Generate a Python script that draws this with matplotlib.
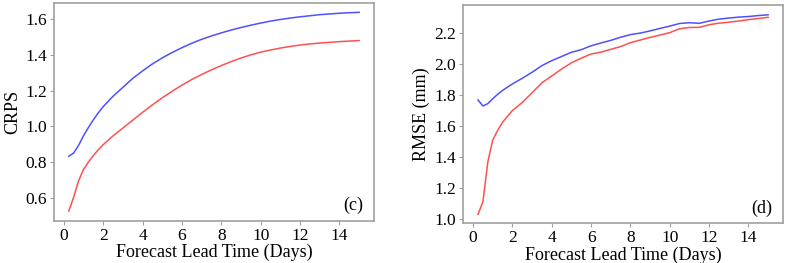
import numpy as np
import matplotlib
matplotlib.use('Agg')
import matplotlib.pyplot as plt

plt.rcParams['font.family'] = ['Liberation Serif', 'DejaVu Serif']

# Lead times (days) and scores
lead_crps = [0.25, 0.5, 0.75, 1, 1.25, 1.5, 1.75, 2, 2.5, 3, 3.5, 4, 4.5, 5, 5.5, 6, 6.5, 7,
             7.5, 8, 8.5, 9, 9.5, 10, 10.5, 11, 11.5, 12, 12.5, 13, 13.5, 14, 14.5, 15]
crps_blue = [0.832, 0.850, 0.893, 0.947, 0.993, 1.036, 1.075, 1.110, 1.168, 1.218, 1.268,
             1.310, 1.349, 1.383, 1.413, 1.440, 1.465, 1.487, 1.506, 1.523, 1.539, 1.553,
             1.566, 1.578, 1.589, 1.598, 1.606, 1.613, 1.619, 1.625, 1.629, 1.633, 1.636,
             1.638]
crps_red = [0.524, 0.603, 0.695, 0.758, 0.800, 0.836, 0.868, 0.897, 0.946, 0.990, 1.034,
            1.078, 1.120, 1.159, 1.196, 1.230, 1.262, 1.290, 1.316, 1.340, 1.362, 1.382,
            1.400, 1.415, 1.427, 1.438, 1.447, 1.455, 1.461, 1.466, 1.470, 1.474, 1.477,
            1.480]

lead_rmse = [0.25, 0.5, 0.75, 1, 1.25, 1.5, 2, 2.5, 3, 3.5, 4, 4.5, 5, 5.5, 6, 6.5, 7, 7.5,
             8, 8.5, 9, 9.5, 10, 10.5, 11, 11.5, 12, 12.5, 13, 13.5, 14, 14.5, 15]
rmse_blue = [1.768, 1.729, 1.745, 1.776, 1.805, 1.830, 1.872, 1.908, 1.947, 1.990, 2.022,
             2.049, 2.076, 2.093, 2.118, 2.136, 2.153, 2.173, 2.190, 2.200, 2.214, 2.230,
             2.245, 2.262, 2.267, 2.263, 2.278, 2.290, 2.297, 2.303, 2.307, 2.313, 2.318]
rmse_red = [1.030, 1.112, 1.370, 1.510, 1.572, 1.625, 1.700, 1.752, 1.815, 1.879, 1.923,
            1.968, 2.008, 2.038, 2.065, 2.077, 2.095, 2.113, 2.138, 2.155, 2.172, 2.187,
            2.203, 2.228, 2.236, 2.237, 2.254, 2.264, 2.270, 2.278, 2.287, 2.294, 2.302]

blue = '#5050ff'
red = '#ff5050'
edge = '#a0a0a0'

fig = plt.figure(figsize=(7.93, 2.63), dpi=100)
ax1 = fig.add_axes([0.0681, 0.1597, 0.4039, 0.830])
ax2 = fig.add_axes([0.5842, 0.151, 0.4035, 0.831])


def style(ax, tag):
    for s in ax.spines.values():
        s.set_color(edge)
        s.set_linewidth(1.2)
    ax.tick_params(colors=edge, labelcolor='black', length=3, width=0.8,
                   labelsize=12.5, pad=2)
    ax.set_xlabel('Forecast Lead Time (Days)', fontsize=13, labelpad=0)
    ax.set_xticks([0, 2, 4, 6, 8, 10, 12, 14])
    ax.set_xlim(-0.5, 15.77)
    ax.text(0.965, 0.03, tag, transform=ax.transAxes, ha='right', va='bottom',
            fontsize=13)


ax1.plot(lead_crps, crps_blue, color=blue, lw=1.1)
ax1.plot(lead_crps, crps_red, color=red, lw=1.1)
ax1.set_ylim(0.469, 1.692)
ax1.set_yticks([0.6, 0.8, 1.0, 1.2, 1.4, 1.6])
ax1.set_ylabel('CRPS', fontsize=13, labelpad=3)
style(ax1, '(c)')

ax2.plot(lead_rmse, rmse_blue, color=blue, lw=1.1)
ax2.plot(lead_rmse, rmse_red, color=red, lw=1.1)
ax2.set_ylim(0.972, 2.383)
ax2.set_yticks([1.0, 1.2, 1.4, 1.6, 1.8, 2.0, 2.2])
ax2.set_ylabel('RMSE (mm)', fontsize=13, labelpad=3)
style(ax2, '(d)')

fig.savefig('out.png', dpi=100)
